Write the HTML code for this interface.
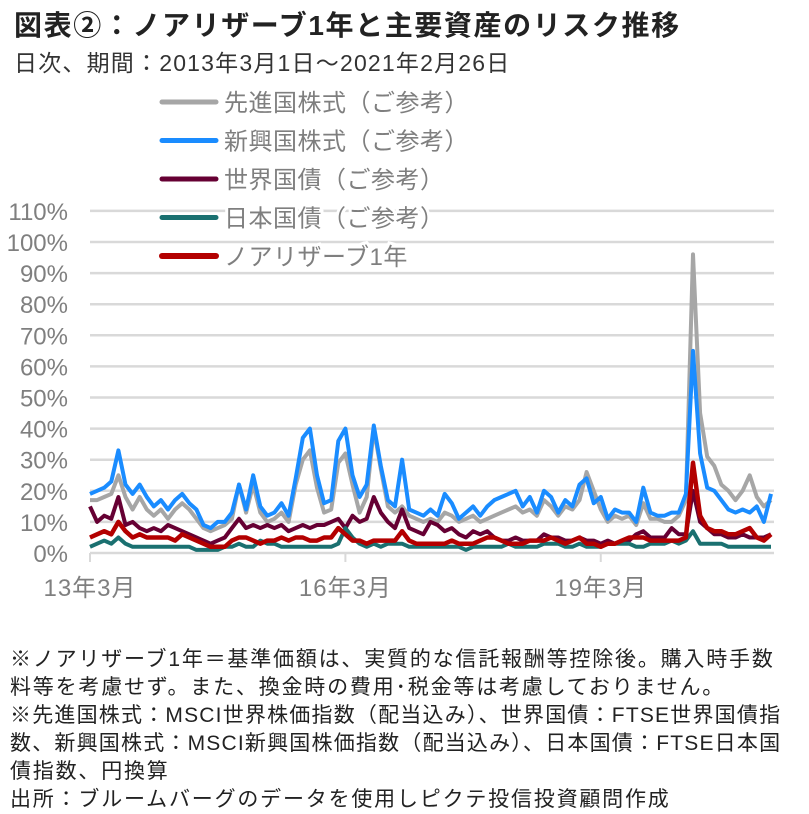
<!DOCTYPE html>
<html><head><meta charset="utf-8"><style>
body{margin:0;background:#fff;width:809px;height:812px;overflow:hidden;font-family:"Liberation Sans","Noto Sans CJK JP",sans-serif}
#title{position:absolute;left:14px;top:4px;font-size:28px;font-weight:bold;color:#222;white-space:nowrap;letter-spacing:1.6px}
#sub{position:absolute;left:14px;top:44px;font-size:23px;color:#333;white-space:nowrap;letter-spacing:1.2px}
#foot{position:absolute;left:10px;top:646px;font-size:21px;line-height:28px;color:#222;white-space:nowrap;letter-spacing:1.8px}
svg{position:absolute;left:0;top:0}
</style></head><body>
<div id="title">図表②：ノアリザーブ1年と主要資産のリスク推移</div>
<div id="sub">日次、期間：2013年3月1日～2021年2月26日</div>
<svg id="chart" width="809" height="640"></svg>
<div id="foot">※ノアリザーブ1年＝基準価額は、実質的な信託報酬等控除後。購入時手数<br>料等を考慮せず。また、換金時の費用･税金等は考慮しておりません。<br><span style="letter-spacing:1.2px">※先進国株式：MSCI世界株価指数（配当込み）、世界国債：FTSE世界国債指<br>数、新興国株式：MSCI新興国株価指数（配当込み）、日本国債：FTSE日本国</span><br>債指数、円換算<br>出所：ブルームバーグのデータを使用しピクテ投信投資顧問作成</div>
<script>
const yTicks=[0,10,20,30,40,50,60,70,80,90,100,110];
const xTickLabels=["13年3月","16年3月","19年3月"];
const xTickIdx=[0,36,72];
const seriesNames=["先進国株式（ご参考）","新興国株式（ご参考）","世界国債（ご参考）","日本国債（ご参考）","ノアリザーブ1年"];
const dm=[17,17,18,19,25,18,14,18,14,12,14,11,14,16,14,11,8,7,8,9,11,22,13,22,13,10,11,13,10,22,30,33,21,13,14,29,32,22,13,18,40,27,15,13,15,12,11,10,11,10,13,12,10,11,12,10,11,12,13,14,15,13,14,12,17,15,12,15,14,17,26,20,14,10,12,11,12,9,16,11,11,10,10,12,17,96,45,31,28,22,20,17,20,25,18,15,17];
const em=[19,20,21,23,33,22,19,22,18,15,17,14,17,19,16,14,9,8,10,10,13,22,14,25,15,12,13,16,12,24,37,40,25,16,17,36,40,25,18,22,41,28,17,15,30,14,13,12,14,12,19,16,11,13,15,12,15,17,18,19,20,15,18,13,20,18,13,17,15,22,24,16,18,11,14,13,13,10,21,13,12,12,13,13,19,65,32,21,20,17,14,13,14,13,15,10,19];
const wgb=[15,10,12,11,18,9,10,8,7,8,7,9,8,7,6,5,4,3,4,5,8,11,8,9,8,9,8,9,7,8,9,8,9,9,10,11,8,12,10,11,18,13,10,8,14,8,7,6,10,9,7,8,6,5,7,6,7,5,4,4,5,4,4,4,6,5,5,4,4,5,4,4,3,4,3,4,4,6,7,5,5,5,8,6,6,20,10,8,6,6,5,5,6,5,5,5,6];
const jgb=[2,3,4,3,5,3,2,2,2,2,2,2,2,2,2,1,1,1,1,2,2,3,2,2,4,3,3,2,2,2,2,2,2,2,2,3,8,5,3,2,3,2,3,3,3,2,2,2,2,2,2,2,2,1,2,2,2,2,2,3,2,2,2,2,3,3,3,2,2,3,2,2,2,3,3,3,3,2,2,3,3,3,4,3,4,7,3,3,3,3,2,2,2,2,2,2,2];
const noa=[5,6,7,6,10,7,5,6,5,5,5,5,4,6,5,4,3,2,2,2,4,5,5,4,3,4,4,5,4,5,5,4,4,5,5,8,6,4,4,3,4,4,4,4,7,4,3,3,3,3,3,4,3,3,3,4,5,5,4,3,3,3,4,4,4,5,4,3,4,5,3,3,2,3,3,4,5,5,5,4,4,4,4,4,5,29,12,8,7,7,6,6,7,8,5,4,6];
const svg=document.getElementById('chart');
const NS='http://www.w3.org/2000/svg';
const X0=90,X1=771,Y0=553,PX=3.11;
const xs=i=>X0+(X1-X0)*i/(em.length-1);
const ys=v=>Y0-v*PX;
function mk(t,a){const e=document.createElementNS(NS,t);for(const k in a)e.setAttribute(k,a[k]);svg.appendChild(e);return e;}
yTicks.forEach(v=>{
  const g=mk('line',{x1:X0,x2:774,y1:ys(v),y2:ys(v),stroke:'#d9d9d9','stroke-width':2.5});
  
  
  const t=mk('text',{x:68,y:ys(v)+9,'text-anchor':'end','font-size':24,fill:'#7f7f7f'});
  t.textContent=v+'%';
  
  
});
xTickIdx.forEach((ix,k)=>{
  const l=mk('line',{x1:xs(ix),x2:xs(ix),y1:Y0,y2:Y0+9,stroke:'#d9d9d9','stroke-width':2});
  
  
  const t=mk('text',{x:xs(ix),y:596,'text-anchor':'middle','font-size':24,fill:'#7f7f7f','letter-spacing':1});
  t.textContent=xTickLabels[k];
  
  
});
const all=[dm,em,wgb,jgb,noa];
const cols=['#a6a6a6','#1a8cff','#660033','#1a7070','#b30000'];
const names=['line-developed-equity','line-emerging-equity','line-world-bonds','line-japan-bonds','line-noa-reserve'];
all.forEach((d,k)=>{
  const p=mk('polyline',{points:d.map((v,i)=>xs(i).toFixed(1)+','+ys(v).toFixed(1)).join(' '),fill:'none',stroke:cols[k],'stroke-width':k==4?4.5:4,'stroke-linejoin':'round'});
  
  
});
seriesNames.forEach((n,k)=>{
  const y=102+k*38.5;
  const l=mk('line',{x1:162,x2:216,y1:y,y2:y,stroke:cols[k],'stroke-width':k==4?6:5,'stroke-linecap':'round'});
  
  
  const t=mk('text',{x:224,y:y+9,'font-size':24,fill:'#7f7f7f','letter-spacing':0.5,stroke:'#fff','stroke-width':6,'paint-order':'stroke'});
  t.textContent=n;
  
  
});
</script>
</body></html>
